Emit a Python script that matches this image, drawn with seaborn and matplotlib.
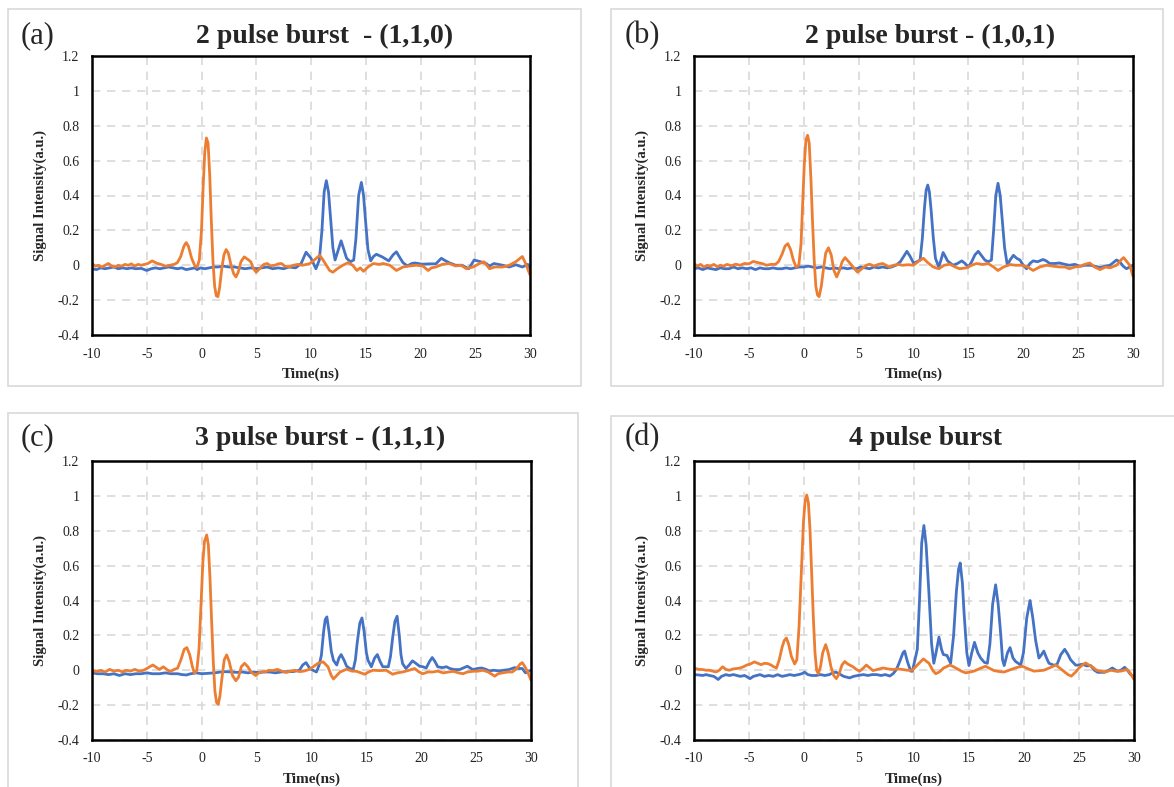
import seaborn as sns
import matplotlib.pyplot as plt
import pandas as pd
from matplotlib.patches import Rectangle
from matplotlib.ticker import MultipleLocator, FuncFormatter

# --------------------------------------------------
# Data: (time in ns, signal a.u.)
# --------------------------------------------------
a_orange = [(-10.0, 0.01), (-9.7, -0.005), (-9.4, 0.0), (-9.1, -0.01), (-8.8, 0.0), (-8.5, 0.01), (-8.2, -0.005),
            (-7.9, -0.01), (-7.6, 0.0), (-7.3, -0.005), (-7.0, 0.005), (-6.7, 0.0), (-6.4, 0.008), (-6.1, -0.005),
            (-5.8, 0.005), (-5.5, 0.0), (-5.2, 0.005), (-4.9, 0.01), (-4.5, 0.025), (-4.1, 0.012), (-3.7, 0.005),
            (-3.3, -0.005), (-2.9, 0.0), (-2.5, 0.005), (-2.2, 0.015), (-1.9, 0.05), (-1.6, 0.11), (-1.4, 0.13),
            (-1.2, 0.11), (-0.9, 0.04), (-0.6, -0.005), (-0.4, -0.01), (-0.2, 0.03), (0.0, 0.2), (0.15, 0.45),
            (0.3, 0.65), (0.45, 0.73), (0.6, 0.7), (0.75, 0.52), (0.9, 0.25), (1.05, 0.02), (1.2, -0.12),
            (1.35, -0.175), (1.5, -0.18), (1.65, -0.13), (1.85, -0.02), (2.05, 0.06), (2.25, 0.09), (2.45, 0.07),
            (2.7, 0.0), (2.95, -0.05), (3.15, -0.067), (3.35, -0.04), (3.6, 0.02), (3.9, 0.048), (4.2, 0.035),
            (4.5, 0.02), (4.75, -0.02), (5.0, -0.04), (5.3, -0.02), (5.7, 0.005), (6.0, 0.01), (6.3, -0.003),
            (6.7, 0.0), (7.0, 0.008), (7.3, 0.01), (7.6, -0.005), (8.0, -0.01), (8.4, 0.0), (8.8, 0.005),
            (9.2, 0.0), (9.6, 0.005), (9.9, 0.01), (10.3, 0.03), (10.8, 0.057), (11.1, 0.03), (11.4, 0.0),
            (11.7, -0.03), (12.0, -0.04), (12.4, -0.02), (12.9, 0.0), (13.4, 0.015), (13.8, 0.0), (14.2, -0.03),
            (14.5, -0.015), (14.8, -0.035), (15.2, -0.01), (15.7, 0.01), (16.2, 0.005), (16.6, 0.01), (17.2, 0.0),
            (17.8, -0.03), (18.4, -0.01), (19.0, -0.004), (19.6, 0.0), (20.2, -0.004), (20.7, -0.03), (21.0, -0.015),
            (21.4, -0.01), (22.0, 0.005), (22.6, 0.01), (23.2, -0.004), (23.7, 0.0), (24.2, -0.02), (24.8, -0.01),
            (25.4, 0.01), (25.8, 0.02), (26.3, -0.02), (26.8, -0.01), (27.5, -0.01), (28.1, 0.0), (28.7, 0.02),
            (29.3, 0.05), (29.6, 0.01), (30.0, -0.055)]
a_blue = [(-10.0, -0.02), (-9.6, -0.025), (-9.2, -0.015), (-8.8, -0.02), (-8.4, -0.015), (-8.0, -0.01), (-7.6, -0.02),
          (-7.2, -0.015), (-6.8, -0.02), (-6.4, -0.015), (-6.0, -0.02), (-5.5, -0.018), (-5.0, -0.03), (-4.6, -0.02),
          (-4.2, -0.015), (-3.8, -0.02), (-3.4, -0.015), (-3.0, -0.01), (-2.6, -0.015), (-2.2, -0.02), (-1.8, -0.015),
          (-1.4, -0.025), (-1.0, -0.02), (-0.6, -0.015), (-0.4, -0.025), (-0.1, -0.015), (0.3, -0.02), (0.7, -0.015),
          (1.1, -0.01), (1.5, -0.01), (2.0, -0.005), (2.5, -0.01), (3.0, -0.01), (3.5, -0.015), (4.0, -0.02),
          (4.5, -0.015), (5.0, -0.02), (5.5, -0.015), (6.0, -0.01), (6.5, -0.02), (7.0, -0.015), (7.5, -0.02),
          (8.0, -0.01), (8.6, -0.015), (9.1, 0.01), (9.55, 0.075), (10.0, 0.04), (10.45, -0.02), (10.76, 0.03),
          (11.0, 0.2), (11.2, 0.42), (11.4, 0.485), (11.6, 0.42), (11.8, 0.26), (12.0, 0.1), (12.2, 0.03),
          (12.45, 0.08), (12.75, 0.14), (13.0, 0.09), (13.25, 0.04), (13.6, 0.02), (13.9, 0.03), (14.1, 0.15),
          (14.35, 0.4), (14.6, 0.475), (14.8, 0.4), (15.0, 0.24), (15.2, 0.09), (15.45, 0.025), (15.7, 0.05),
          (15.97, 0.063), (16.5, 0.048), (17.1, 0.025), (17.5, 0.06), (17.8, 0.077), (18.1, 0.045), (18.4, 0.015),
          (18.8, -0.004), (19.2, 0.01), (19.5, 0.013), (20.15, 0.006), (20.8, 0.008), (21.4, 0.008), (21.9, 0.04),
          (22.3, 0.025), (22.6, 0.015), (23.2, 0.0), (23.8, 0.0), (24.4, -0.02), (24.9, 0.03), (25.5, 0.02),
          (26.0, 0.01), (26.3, -0.005), (26.7, 0.01), (27.5, 0.0), (28.1, -0.01), (28.7, 0.003), (29.3, -0.01),
          (29.8, 0.005), (30.0, -0.02)]

b_orange = [(-10.0, 0.01), (-9.7, -0.005), (-9.4, 0.005), (-9.1, -0.01), (-8.8, 0.0), (-8.5, -0.005), (-8.2, 0.005),
            (-7.9, -0.008), (-7.6, 0.0), (-7.3, -0.005), (-7.0, 0.005), (-6.6, -0.003), (-6.2, 0.006), (-5.8, 0.0),
            (-5.4, 0.01), (-5.0, 0.008), (-4.6, 0.022), (-4.2, 0.015), (-3.8, 0.01), (-3.4, 0.0), (-3.0, 0.005),
            (-2.6, 0.005), (-2.3, 0.02), (-2.0, 0.06), (-1.7, 0.11), (-1.45, 0.124), (-1.2, 0.09), (-0.95, 0.03),
            (-0.7, -0.01), (-0.45, 0.0), (-0.25, 0.12), (-0.1, 0.35), (0.05, 0.58), (0.2, 0.72), (0.35, 0.745),
            (0.5, 0.7), (0.65, 0.5), (0.8, 0.25), (0.95, 0.03), (1.1, -0.12), (1.25, -0.17), (1.4, -0.18),
            (1.6, -0.12), (1.8, -0.02), (2.0, 0.07), (2.25, 0.10), (2.5, 0.06), (2.75, -0.03), (3.0, -0.067),
            (3.25, -0.03), (3.5, 0.02), (3.76, 0.044), (4.1, 0.02), (4.5, -0.01), (4.9, -0.04), (5.3, -0.02),
            (5.7, 0.0), (6.0, 0.006), (6.4, -0.005), (6.8, 0.005), (7.2, 0.01), (7.5, 0.0), (7.8, -0.01),
            (8.2, 0.0), (8.6, 0.005), (9.0, 0.0), (9.5, 0.003), (10.0, 0.0), (10.5, 0.025), (10.9, 0.04),
            (11.3, 0.015), (11.8, -0.01), (12.3, -0.02), (12.8, 0.0), (13.3, 0.006), (13.8, -0.01), (14.2, -0.02),
            (14.8, -0.015), (15.3, 0.0), (15.75, 0.01), (16.3, 0.005), (16.8, 0.01), (17.3, -0.01), (17.7, -0.03),
            (18.2, -0.01), (18.8, 0.004), (19.3, 0.0), (19.85, 0.0), (20.4, -0.01), (20.9, -0.03), (21.5, -0.01),
            (22.1, 0.0), (22.7, -0.005), (23.3, -0.01), (23.8, -0.01), (24.2, -0.02), (24.7, -0.01), (25.15, -0.006),
            (25.6, 0.005), (26.06, 0.013), (26.5, -0.01), (27.0, -0.025), (27.5, -0.01), (27.9, -0.015), (28.5, 0.0),
            (28.9, 0.03), (29.15, 0.044), (29.45, 0.02), (29.7, 0.0), (30.0, -0.063)]
b_blue = [(-10.0, -0.02), (-9.6, -0.015), (-9.2, -0.025), (-8.8, -0.015), (-8.4, -0.02), (-8.0, -0.025), (-7.6, -0.015),
          (-7.2, -0.02), (-6.8, -0.02), (-6.4, -0.01), (-6.0, -0.02), (-5.6, -0.015), (-5.2, -0.02), (-4.8, -0.015),
          (-4.4, -0.025), (-4.0, -0.015), (-3.6, -0.02), (-3.2, -0.02), (-2.8, -0.015), (-2.4, -0.02), (-2.0, -0.02),
          (-1.6, -0.015), (-1.2, -0.02), (-0.8, -0.015), (-0.4, -0.01), (0.0, -0.01), (0.4, -0.005), (0.8, -0.01),
          (1.2, -0.015), (1.6, -0.01), (2.0, -0.015), (2.4, -0.02), (2.8, -0.015), (3.2, -0.02), (3.6, -0.015),
          (4.0, -0.02), (4.4, -0.015), (4.8, -0.02), (5.2, -0.01), (5.6, -0.015), (6.0, -0.02), (6.4, -0.01),
          (6.8, -0.015), (7.2, -0.01), (7.6, -0.015), (8.0, -0.01), (8.4, 0.0), (8.8, 0.02), (9.1, 0.05),
          (9.4, 0.08), (9.7, 0.05), (10.0, 0.013), (10.3, 0.02), (10.6, 0.03), (10.8, 0.15), (11.0, 0.33),
          (11.15, 0.43), (11.3, 0.46), (11.45, 0.42), (11.6, 0.32), (11.8, 0.16), (12.0, 0.04), (12.3, -0.01),
          (12.5, 0.03), (12.7, 0.073), (12.9, 0.05), (13.1, 0.025), (13.6, 0.0), (14.0, 0.01), (14.4, 0.025),
          (14.7, 0.01), (15.0, -0.01), (15.3, 0.02), (15.6, 0.06), (15.9, 0.08), (16.2, 0.055), (16.5, 0.03),
          (16.8, 0.02), (17.1, 0.03), (17.3, 0.2), (17.5, 0.4), (17.7, 0.47), (17.9, 0.4), (18.1, 0.25),
          (18.3, 0.1), (18.55, 0.0), (18.8, 0.03), (19.1, 0.057), (19.4, 0.04), (19.7, 0.03), (20.0, 0.0),
          (20.3, -0.02), (20.6, 0.01), (20.9, 0.025), (21.3, 0.02), (21.8, 0.033), (22.1, 0.025), (22.4, 0.01),
          (22.8, 0.01), (23.3, 0.013), (23.8, 0.005), (24.2, 0.0), (24.7, 0.005), (25.2, -0.006), (25.6, 0.0),
          (26.1, 0.0), (26.5, -0.005), (27.0, -0.013), (27.5, -0.005), (27.9, 0.0), (28.2, 0.015), (28.5, 0.03),
          (28.8, 0.02), (29.1, -0.005), (29.4, -0.02), (29.7, -0.01), (30.0, 0.0)]

c_orange = [(-10.0, 0.0), (-9.6, -0.008), (-9.2, 0.0), (-8.8, -0.01), (-8.4, 0.005), (-8.0, -0.005), (-7.6, 0.0),
            (-7.2, -0.01), (-6.9, 0.0), (-6.5, -0.005), (-6.1, 0.005), (-5.7, -0.005), (-5.3, 0.0), (-5.0, 0.01),
            (-4.75, 0.02), (-4.45, 0.03), (-4.1, 0.015), (-3.85, 0.005), (-3.5, 0.02), (-3.2, 0.005), (-2.9, -0.008),
            (-2.5, 0.005), (-2.2, 0.012), (-1.9, 0.06), (-1.6, 0.12), (-1.36, 0.13), (-1.1, 0.09), (-0.85, 0.02),
            (-0.67, -0.017), (-0.45, 0.0), (-0.25, 0.12), (-0.05, 0.4), (0.1, 0.62), (0.25, 0.74), (0.45, 0.776),
            (0.6, 0.72), (0.75, 0.53), (0.9, 0.28), (1.05, 0.05), (1.2, -0.12), (1.35, -0.185), (1.5, -0.195),
            (1.65, -0.15), (1.85, -0.04), (2.05, 0.06), (2.27, 0.088), (2.5, 0.05), (2.8, -0.03), (3.1, -0.06),
            (3.35, -0.04), (3.6, 0.02), (3.9, 0.04), (4.2, 0.02), (4.5, -0.01), (4.9, -0.03), (5.3, -0.01),
            (5.85, -0.008), (6.1, 0.0), (6.45, -0.002), (6.9, 0.005), (7.3, -0.005), (7.7, -0.013), (8.1, -0.005),
            (8.5, 0.0), (8.9, -0.008), (9.3, -0.005), (9.8, 0.005), (10.15, 0.02), (10.6, 0.04), (11.06, 0.048),
            (11.5, 0.02), (11.8, -0.03), (12.0, -0.05), (12.3, -0.03), (12.6, -0.01), (13.2, 0.006), (13.7, -0.005),
            (14.1, -0.006), (14.5, -0.015), (14.85, -0.023), (15.2, -0.01), (15.6, 0.0), (16.2, -0.002), (16.8, 0.0),
            (17.4, -0.023), (17.8, -0.015), (18.3, -0.01), (18.9, 0.0), (19.4, 0.01), (19.8, -0.01), (20.15, -0.02),
            (20.6, -0.01), (21.06, -0.01), (21.5, -0.005), (22.0, -0.015), (22.5, -0.01), (22.9, -0.006),
            (23.4, -0.015), (23.8, -0.02), (24.2, -0.01), (24.7, -0.006), (25.2, -0.005), (25.6, 0.0), (26.1, -0.01),
            (26.7, -0.034), (27.0, -0.02), (27.4, -0.015), (27.9, -0.01), (28.3, -0.01), (28.7, 0.01), (29.0, 0.035),
            (29.2, 0.044), (29.45, 0.02), (29.7, -0.01), (30.0, -0.057)]
c_blue = [(-10.0, -0.015), (-9.5, -0.02), (-9.0, -0.02), (-8.5, -0.025), (-8.0, -0.02), (-7.5, -0.03), (-7.0, -0.02),
          (-6.5, -0.025), (-6.0, -0.02), (-5.5, -0.02), (-5.0, -0.015), (-4.5, -0.02), (-3.85, -0.02), (-3.3, -0.015),
          (-2.8, -0.02), (-2.2, -0.02), (-1.8, -0.025), (-1.4, -0.027), (-1.0, -0.02), (-0.5, -0.015), (0.0, -0.02),
          (0.7, -0.017), (1.2, -0.015), (1.7, -0.01), (2.2, -0.008), (2.7, -0.01), (3.2, -0.012), (3.7, -0.01),
          (4.2, -0.015), (4.7, -0.01), (5.2, -0.013), (5.7, -0.01), (6.2, -0.01), (6.7, -0.015), (7.2, -0.01),
          (7.7, -0.008), (8.3, -0.008), (8.9, 0.0), (9.2, 0.03), (9.5, 0.044), (9.8, 0.015), (10.0, 0.004),
          (10.45, -0.01), (10.7, 0.03), (10.9, 0.086), (11.1, 0.22), (11.25, 0.29), (11.4, 0.306), (11.6, 0.22),
          (11.8, 0.11), (12.0, 0.057), (12.3, 0.03), (12.5, 0.07), (12.7, 0.09), (12.95, 0.06), (13.2, 0.023),
          (13.5, 0.01), (13.8, 0.004), (14.0, 0.06), (14.15, 0.15), (14.4, 0.27), (14.6, 0.30), (14.8, 0.22),
          (15.0, 0.1), (15.15, 0.057), (15.45, 0.02), (15.75, 0.07), (16.0, 0.09), (16.25, 0.05), (16.5, 0.02),
          (17.0, 0.02), (17.2, 0.08), (17.4, 0.19), (17.6, 0.28), (17.8, 0.31), (18.0, 0.2), (18.15, 0.09),
          (18.3, 0.038), (18.6, 0.01), (18.9, 0.03), (19.2, 0.054), (19.5, 0.04), (19.85, 0.023), (20.15, 0.02),
          (20.45, 0.013), (20.75, 0.05), (21.0, 0.073), (21.25, 0.05), (21.5, 0.02), (21.9, 0.015), (22.3, 0.02),
          (22.6, 0.01), (23.0, 0.004), (23.5, 0.004), (23.9, 0.015), (24.2, 0.023), (24.7, 0.004), (25.1, 0.01),
          (25.5, 0.013), (25.9, 0.005), (26.2, -0.004), (26.6, 0.0), (27.1, -0.004), (27.5, 0.0), (28.0, 0.004),
          (28.5, 0.015), (28.9, 0.01), (29.2, 0.01), (29.5, -0.015), (29.8, -0.005), (30.0, 0.0)]

d_orange = [(-10.0, 0.013), (-9.6, 0.005), (-9.2, 0.004), (-8.9, 0.0), (-8.6, 0.0), (-8.3, -0.005), (-8.0, -0.01),
            (-7.7, 0.0), (-7.4, 0.02), (-7.1, 0.005), (-6.8, 0.0), (-6.4, 0.008), (-6.1, 0.01), (-5.8, 0.013),
            (-5.5, 0.02), (-5.2, 0.03), (-4.9, 0.035), (-4.5, 0.048), (-4.2, 0.04), (-3.9, 0.032), (-3.6, 0.04),
            (-3.3, 0.038), (-3.0, 0.03), (-2.75, 0.02), (-2.5, 0.013), (-2.25, 0.06), (-2.0, 0.13), (-1.8, 0.17),
            (-1.6, 0.185), (-1.4, 0.15), (-1.15, 0.08), (-0.85, 0.036), (-0.65, 0.06), (-0.45, 0.25), (-0.25, 0.55),
            (-0.05, 0.85), (0.1, 0.97), (0.25, 1.005), (0.4, 0.96), (0.55, 0.8), (0.7, 0.55), (0.85, 0.3),
            (1.0, 0.1), (1.15, 0.0), (1.3, -0.02), (1.5, 0.02), (1.7, 0.1), (1.97, 0.147), (2.2, 0.1), (2.45, 0.02),
            (2.7, -0.03), (2.94, -0.048), (3.2, -0.02), (3.45, 0.03), (3.7, 0.05), (4.0, 0.035), (4.45, 0.02),
            (4.75, 0.005), (5.06, -0.005), (5.35, 0.01), (5.67, 0.03), (5.95, 0.015), (6.27, -0.002), (6.7, 0.005),
            (7.2, 0.013), (7.6, 0.008), (8.1, 0.004), (8.5, 0.008), (9.0, 0.004), (9.4, 0.0), (9.85, 0.0),
            (10.3, 0.03), (10.85, 0.065), (11.36, 0.04), (11.7, 0.0), (11.97, -0.02), (12.3, -0.01), (12.7, 0.013),
            (13.27, 0.03), (13.6, 0.02), (13.94, 0.008), (14.3, -0.005), (14.7, -0.015), (15.1, -0.01),
            (15.45, -0.005), (16.0, 0.01), (16.5, 0.023), (16.9, 0.01), (17.27, -0.002), (17.8, -0.008),
            (18.2, -0.01), (18.8, 0.004), (19.3, 0.015), (19.85, 0.023), (20.3, 0.01), (20.9, -0.005),
            (21.3, -0.003), (21.8, 0.0), (22.3, 0.013), (22.9, 0.03), (23.3, 0.01), (23.6, -0.005), (24.0, -0.025),
            (24.3, -0.034), (24.7, -0.01), (25.0, 0.013), (25.3, 0.03), (25.6, 0.042), (25.9, 0.03), (26.2, 0.02),
            (26.6, 0.0), (26.97, -0.005), (27.4, -0.01), (27.9, 0.0), (28.3, -0.005), (28.8, -0.005), (29.1, 0.0),
            (29.4, 0.004), (29.7, -0.02), (30.0, -0.053)]
d_blue = [(-10.0, -0.025), (-9.6, -0.027), (-9.2, -0.03), (-8.9, -0.025), (-8.6, -0.03), (-8.2, -0.035), (-7.8, -0.053),
          (-7.5, -0.035), (-7.1, -0.025), (-6.8, -0.03), (-6.4, -0.025), (-6.1, -0.03), (-5.8, -0.035), (-5.4, -0.03),
          (-4.9, -0.048), (-4.6, -0.035), (-4.3, -0.03), (-4.0, -0.025), (-3.6, -0.035), (-3.2, -0.03), (-2.8, -0.035),
          (-2.4, -0.025), (-2.0, -0.035), (-1.6, -0.03), (-1.3, -0.025), (-0.9, -0.03), (-0.5, -0.025), (-0.2, -0.02),
          (0.06, -0.011), (0.35, -0.025), (0.7, -0.03), (1.1, -0.03), (1.5, -0.025), (1.9, -0.03), (2.3, -0.025),
          (2.6, -0.015), (2.9, -0.011), (3.2, -0.02), (3.6, -0.035), (4.15, -0.044), (4.5, -0.035), (4.9, -0.03),
          (5.4, -0.025), (5.8, -0.03), (6.2, -0.025), (6.6, -0.025), (7.0, -0.03), (7.4, -0.025), (7.8, -0.033),
          (8.1, -0.02), (8.4, 0.004), (8.7, 0.05), (9.0, 0.1), (9.15, 0.11), (9.4, 0.05), (9.7, -0.005),
          (9.85, -0.006), (10.05, 0.05), (10.3, 0.12), (10.5, 0.4), (10.7, 0.73), (10.9, 0.83), (11.1, 0.72),
          (11.36, 0.44), (11.6, 0.15), (11.8, 0.04), (12.0, 0.1), (12.27, 0.19), (12.5, 0.12), (12.67, 0.09),
          (13.0, 0.085), (13.33, 0.04), (13.6, 0.2), (13.85, 0.45), (14.05, 0.58), (14.2, 0.615), (14.4, 0.5),
          (14.55, 0.33), (14.8, 0.1), (15.0, 0.027), (15.25, 0.1), (15.5, 0.16), (15.8, 0.1), (16.06, 0.07),
          (16.4, 0.045), (16.67, 0.04), (16.9, 0.15), (17.15, 0.38), (17.42, 0.49), (17.65, 0.38), (17.88, 0.21),
          (18.05, 0.06), (18.2, 0.027), (18.5, 0.1), (18.73, 0.13), (19.0, 0.07), (19.24, 0.05), (19.7, 0.03),
          (19.95, 0.1), (20.25, 0.3), (20.55, 0.40), (20.8, 0.3), (21.06, 0.17), (21.36, 0.07), (21.6, 0.09),
          (21.8, 0.11), (22.05, 0.07), (22.27, 0.04), (22.7, 0.029), (23.0, 0.033), (23.35, 0.09), (23.7, 0.12),
          (24.0, 0.09), (24.24, 0.06), (24.7, 0.029), (25.0, 0.03), (25.3, 0.035), (25.7, 0.025), (26.06, 0.027),
          (26.4, 0.0), (26.7, -0.012), (27.3, -0.012), (27.7, 0.0), (28.03, 0.013), (28.5, -0.006), (28.8, 0.0),
          (29.15, 0.017), (29.4, 0.0), (29.7, -0.025), (30.0, -0.038)]

panel_letters = ["(a)", "(b)", "(c)", "(d)"]
panel_titles = ["2 pulse burst  - (1,1,0)", "2 pulse burst - (1,0,1)",
                "3 pulse burst - (1,1,1)", "4 pulse burst"]
panel_traces = [(a_blue, a_orange), (b_blue, b_orange), (c_blue, c_orange), (d_blue, d_orange)]

BLUE = "#4472C4"
ORANGE = "#ED7D31"
GRID = "#D9D9D9"

# --------------------------------------------------
# Figure setup
# --------------------------------------------------
sns.set_theme(style="white")
plt.rcParams["font.family"] = ["Liberation Serif", "DejaVu Serif"]
plt.rcParams["axes.unicode_minus"] = False

W, H = 1174, 787
fig = plt.figure(figsize=(W / 100, H / 100), dpi=100)
fig.patch.set_facecolor("white")


def px_rect(x0, y0, x1, y1):
    """pixel box (top-left origin) -> figure fraction [l, b, w, h]"""
    return [x0 / W, 1 - y1 / H, (x1 - x0) / W, (y1 - y0) / H]


# outer light-gray frames around each sub-figure
frames = [(8, 9, 581, 386), (611, 9, 1163, 386), (8, 413, 578, 792), (611, 416, 1180, 792)]
for x0, y0, x1, y1 in frames:
    fig.patches.append(Rectangle((x0 / W, 1 - y1 / H), (x1 - x0) / W, (y1 - y0) / H,
                                 transform=fig.transFigure, fill=False,
                                 edgecolor=GRID, linewidth=1.2))

axes_px = [(92, 56, 530, 335), (694, 56, 1133, 335), (92, 461, 531, 740), (694, 461, 1134, 740)]
letter_pos = [(38, 36), (642, 36), (38, 438), (642, 438)]
title_pos = [(325, 36), (930, 36), (320, 438), (926, 438)]

fmt = FuncFormatter(lambda v, p: f"{round(v, 2):g}")

for i, (box, (blue, orange)) in enumerate(zip(axes_px, panel_traces)):
    ax = fig.add_axes(px_rect(*box))
    df_b = pd.DataFrame(blue, columns=["t", "v"])
    df_o = pd.DataFrame(orange, columns=["t", "v"])
    sns.lineplot(data=df_b, x="t", y="v", ax=ax, color=BLUE, linewidth=2.0, estimator=None)
    sns.lineplot(data=df_o, x="t", y="v", ax=ax, color=ORANGE, linewidth=2.0, estimator=None)

    ax.set_xlim(-10, 30)
    ax.set_ylim(-0.4, 1.2)
    ax.xaxis.set_major_locator(MultipleLocator(5))
    ax.xaxis.set_minor_locator(MultipleLocator(1))
    ax.yaxis.set_major_locator(MultipleLocator(0.2))
    ax.yaxis.set_minor_locator(MultipleLocator(0.04))
    ax.xaxis.set_major_formatter(fmt)
    ax.yaxis.set_major_formatter(fmt)
    ax.tick_params(which="both", direction="in", top=False, right=False, color="black")
    ax.tick_params(which="major", length=5, width=1.6, labelsize=10, pad=9, labelcolor="#222222")
    ax.tick_params(which="minor", length=4, width=1.5)

    ax.grid(True, which="major", color=GRID, linestyle=(0, (5, 4)), linewidth=1.2)
    ax.set_axisbelow(True)
    for s in ax.spines.values():
        s.set_visible(True)
        s.set_color("black")
        s.set_linewidth(1.8)

    ax.set_xlabel("Time(ns)", fontsize=11, fontweight="bold", labelpad=5)
    ax.set_ylabel("Signal Intensity(a.u.)", fontsize=10.5, fontweight="bold", labelpad=8)

    lx, ly = letter_pos[i]
    fig.text(lx / W, 1 - ly / H, panel_letters[i], fontsize=22, ha="center", va="center")
    tx, ty = title_pos[i]
    fig.text(tx / W, 1 - ty / H, panel_titles[i], fontsize=20, fontweight="bold",
             ha="center", va="center")

fig.savefig("out.png", dpi=100, facecolor="white")
